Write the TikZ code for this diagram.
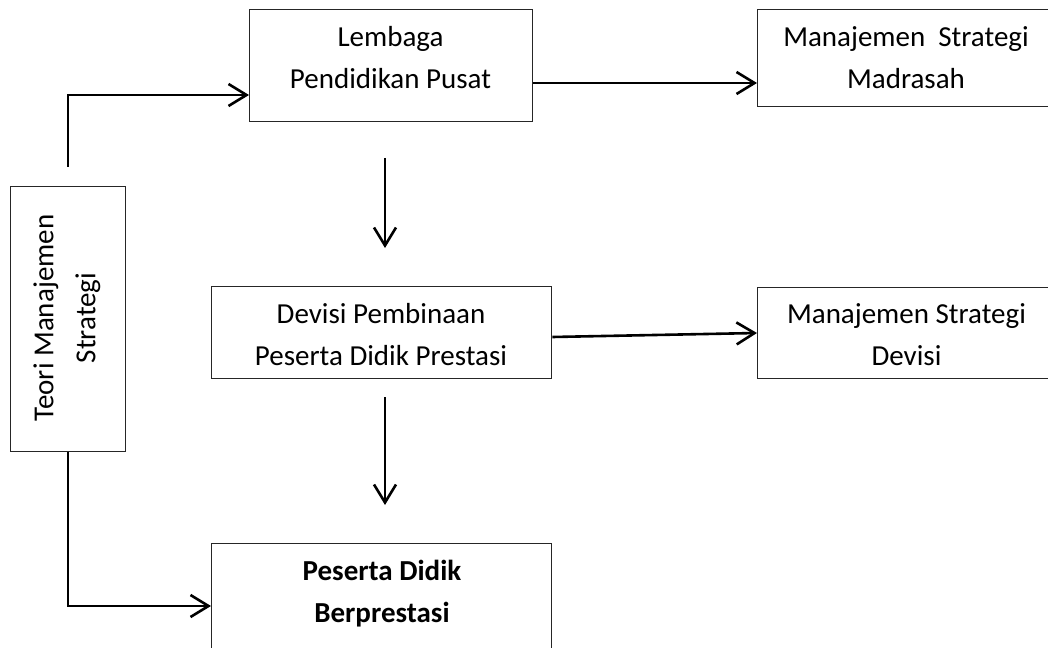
\documentclass[tikz,border=0pt]{standalone}
\usepackage{fontspec}
\setmainfont{Carlito}
\usetikzlibrary{arrows.meta,calc}
\begin{document}
\begin{tikzpicture}[x=1pt,y=-1pt,
  box/.style={draw=black!85, line width=1.3pt, rectangle, inner sep=0pt, anchor=north west},
  txt/.style={font=\fontsize{29}{42}\selectfont, align=center, inner sep=0pt},
  boldtxt/.style={txt, font=\fontsize{29}{42}\selectfont\bfseries},
  conn/.style={line width=2.6pt, -{Straight Barb[length=18pt,width=22pt]}},
  plainline/.style={line width=2.6pt}]
\useasboundingbox (0,0) rectangle (1048,647);
\clip (0,0) rectangle (1048,647);

% boxes
\node[box, minimum width=115, minimum height=265] (teori) at (10,186) {};
\node[box, minimum width=283, minimum height=112] (lem) at (249,9) {};
\node[box, minimum width=298, minimum height=97] (mad) at (757,9) {};
\node[box, minimum width=340, minimum height=92] (dev) at (211,286) {};
\node[box, minimum width=298, minimum height=91] (mgd) at (757,287) {};
\node[box, minimum width=340, minimum height=130] (pes) at (211,543) {};

% texts
\node[txt, rotate=90] (teoritxt) at (67,318) {Teori Manajemen\\Strategi};
\node[txt] (lemtxt) at (390.5,57.5) {Lembaga\\Pendidikan Pusat};
\node[txt] (madtxt) at (906,57.5) {Manajemen\ \ Strategi\\Madrasah};
\node[txt] (devtxt) at (381,334.5) {Devisi Pembinaan\\Peserta Didik Prestasi};
\node[txt] (mgdtxt) at (906.5,335) {Manajemen Strategi\\Devisi};
\node[boldtxt] (pestxt) at (382,594) {Peserta Didik\\Berprestasi};

% free coordinates
\coordinate (t1) at ($(teori.north)+(0,-19)$);
\coordinate (v1a) at (385,158);
\coordinate (v1b) at (385,248);
\coordinate (v2a) at (385,397);
\coordinate (v2b) at (385,505);

% connectors
\draw[conn] (t1) |- ($(lem.north west)+(0,86)$);
\draw[conn] (teori.south) |- ($(pes.north west)+(0,63)$);
\draw[conn] ($(lem.north east)+(0,74)$) -- ($(mad.north west)+(0,74)$);
\draw[conn] ($(dev.north east)+(0,51)$) -- ($(mgd.north west)+(0,46)$);
\draw[conn] (v1a) -- (v1b);
\draw[conn] (v2a) -- (v2b);
\end{tikzpicture}
\end{document}
